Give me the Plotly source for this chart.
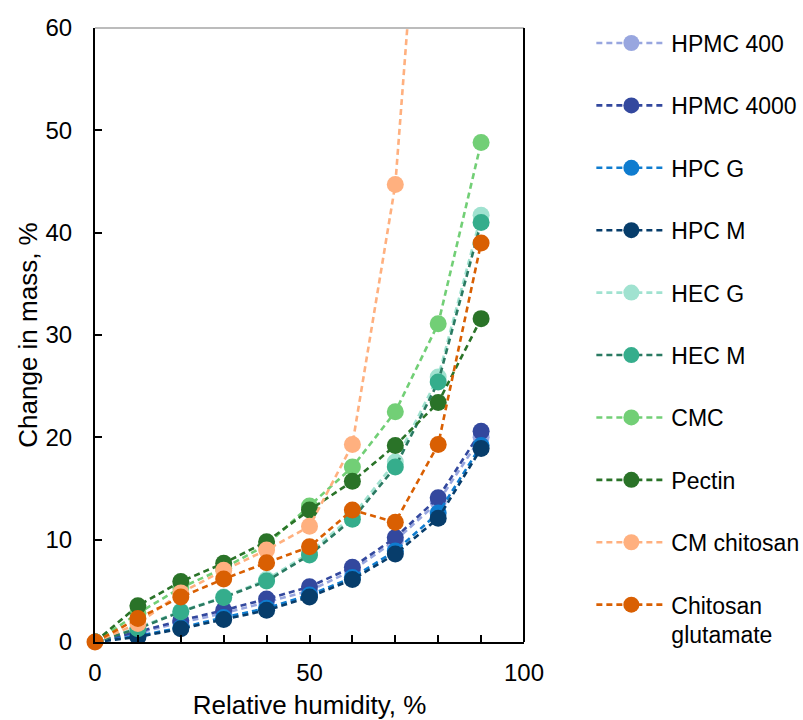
import plotly.graph_objects as go

rh = [0, 10, 20, 30, 40, 50, 60, 70, 80, 90]

names = ["HPMC 400", "HPMC 4000", "HPC G", "HPC M", "HEC G", "HEC M",
         "CMC", "Pectin", "CM chitosan", "Chitosan<br>glutamate"]

hpmc400 = [0, 0.9, 1.9, 2.8, 3.9, 5.0, 7.0, 9.9, 13.7, 20.0]
hpmc4000 = [0, 1.0, 2.1, 3.1, 4.2, 5.4, 7.3, 10.2, 14.1, 20.6]
hpcg = [0, 0.6, 1.4, 2.4, 3.3, 4.6, 6.3, 8.9, 12.6, 19.2]
hpcm = [0, 0.5, 1.3, 2.2, 3.1, 4.4, 6.1, 8.6, 12.1, 18.9]
hecg = [0, 1.4, 3.0, 4.4, 6.1, 8.7, 12.3, 17.6, 25.9, 41.7]
hecm = [0, 1.3, 2.95, 4.35, 5.95, 8.5, 12.0, 17.1, 25.4, 41.0]
cmc = [0, 2.8, 5.3, 7.2, 9.5, 13.3, 17.1, 22.5, 31.1, 48.8]
pectin = [0, 3.55, 5.9, 7.7, 9.8, 12.9, 15.7, 19.2, 23.4, 31.6]
cmchit = [0, 1.8, 4.8, 7.0, 9.0, 11.3, 19.3, 44.7, 99.5]
chitglu = [0, 2.3, 4.4, 6.15, 7.75, 9.3, 12.9, 11.7, 19.3, 39.0]

series = [hpmc400, hpmc4000, hpcg, hpcm, hecg, hecm, cmc, pectin, cmchit, chitglu]

marker_colors = ["#98A6DF", "#33489E", "#0F7CCF", "#073D6B", "#A0E2D0",
                 "#35AD8C", "#72CF76", "#2A7328", "#FFB07F", "#D95F02"]
line_colors = ["#98A6DF", "#33489E", "#0F7CCF", "#073D6B", "#A0E2D0",
               "#2A7A62", "#72CF76", "#2A7328", "#FFB07F", "#D95F02"]

fig = go.Figure()
for i, (nm, ys) in enumerate(zip(names, series)):
    fig.add_trace(go.Scatter(
        x=rh[:len(ys)], y=ys, name=nm, mode="lines+markers",
        legendgroup=f"g{i}",
        legend="legend" if i < 5 else "legend2",
        line=dict(color=line_colors[i], width=2.6, dash="6px,4px"),
        marker=dict(color=marker_colors[i], size=17),
        cliponaxis=True,
    ))
# keep the origin marker unclipped
fig.update_traces(cliponaxis=False, selector=dict(name="Chitosan<br>glutamate"))

font_family = "Liberation Sans, Arial, sans-serif"

legend_common = dict(
    x=1.157, xanchor="left", yanchor="top",
    tracegroupgap=29.5, itemwidth=70, valign="top",
    font=dict(size=23, family=font_family),
    bgcolor="rgba(0,0,0,0)",
)

fig.update_layout(
    width=803, height=720,
    margin=dict(l=95, r=279, t=28, b=78, autoexpand=False),
    plot_bgcolor="white", paper_bgcolor="white",
    font=dict(family=font_family, size=24, color="#000000"),
    showlegend=True,
    legend=dict(y=1.0105, **legend_common),
    legend2=dict(y=0.5023, **legend_common),
    xaxis=dict(
        range=[0, 100], dtick=50, tick0=0,
        showline=True, linecolor="black", linewidth=2,
        ticks="inside", ticklen=7, tickwidth=2, tickcolor="black",
        minor=dict(dtick=10, ticks="inside", ticklen=7, tickwidth=2, tickcolor="black"),
        showgrid=False, zeroline=False,
        ticklabelstandoff=8,
        title=dict(text="Relative humidity, %", font=dict(size=26), standoff=30),
    ),
    yaxis=dict(
        range=[0, 60], dtick=10, tick0=0,
        showline=True, linecolor="black", linewidth=2,
        ticks="inside", ticklen=7, tickwidth=2, tickcolor="black",
        showgrid=False, zeroline=False,
        ticklabelstandoff=16,
        title=dict(text="Change in mass, %", font=dict(size=26), standoff=0),
    ),
    shapes=[
        dict(type="line", xref="paper", yref="paper", x0=0, x1=1, y0=1, y1=1,
             line=dict(color="#A6A6A6", width=1.5), layer="above"),
        dict(type="line", xref="paper", yref="paper", x0=1, x1=1, y0=0, y1=1,
             line=dict(color="black", width=2), layer="above"),
    ],
)

fig.write_html("out.html")
